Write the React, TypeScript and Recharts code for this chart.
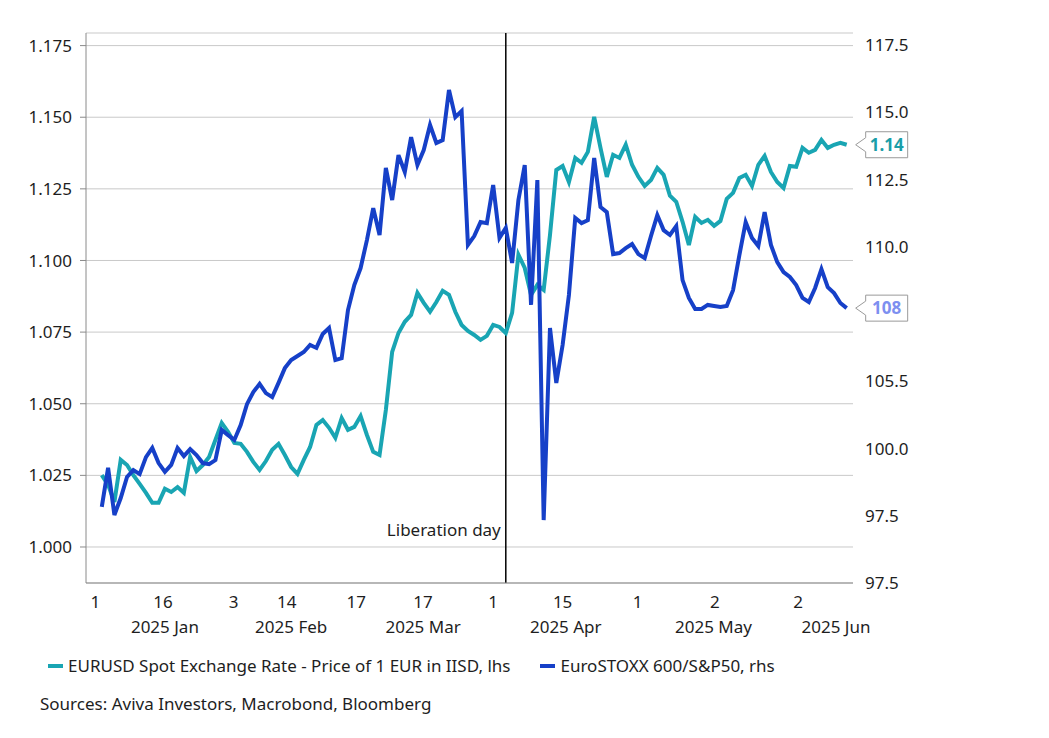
import { LineChart, Line, XAxis, YAxis, CartesianGrid, ReferenceLine } from 'recharts'

// Trading-day index (1 = first obs of 2025)
const dayIndex = Array.from({ length: 119 }, (_, k) => k + 1)

// EURUSD spot, lhs
const eurusd = [
  1.0251, 1.0217, 1.0157, 1.0304, 1.0286, 1.0251, 1.0220, 1.0189, 1.0154, 1.0154,
  1.0203, 1.0192, 1.0209, 1.0189, 1.0314, 1.0265, 1.0286, 1.0314, 1.0374, 1.0433,
  1.0402, 1.0363, 1.0360, 1.0332, 1.0297, 1.0269, 1.0300, 1.0339, 1.0360, 1.0321,
  1.0279, 1.0255, 1.0304, 1.0349, 1.0426, 1.0443, 1.0416, 1.0381, 1.0450, 1.0409,
  1.0419, 1.0457, 1.0391, 1.0332, 1.0321, 1.0478, 1.0681, 1.0747, 1.0786, 1.0810,
  1.0887, 1.0852, 1.0821, 1.0855, 1.0894, 1.0880, 1.0821, 1.0775, 1.0754, 1.0740,
  1.0723, 1.0737, 1.0775, 1.0768, 1.0747, 1.0817, 1.1020, 1.0974, 1.0880, 1.0915,
  1.0897, 1.1089, 1.1316, 1.1330, 1.1274, 1.1358, 1.1341, 1.1379, 1.1501, 1.1393,
  1.1292, 1.1369, 1.1358, 1.1404, 1.1334, 1.1292, 1.1260, 1.1281, 1.1323, 1.1299,
  1.1226, 1.1205, 1.1135, 1.1054, 1.1152, 1.1131, 1.1142, 1.1121, 1.1138, 1.1215,
  1.1236, 1.1288, 1.1299, 1.1260, 1.1334, 1.1365, 1.1309, 1.1274, 1.1253, 1.1330,
  1.1327, 1.1393, 1.1376, 1.1386, 1.1421, 1.1393, 1.1404, 1.1411, 1.1404,
]

// EuroSTOXX 600 / S&P500 ratio, rhs
const stoxxRatio = [
  100.33, 101.78, 100.03, 100.66, 101.44, 101.70, 101.55, 102.18, 102.52, 101.96,
  101.63, 101.89, 102.52, 102.22, 102.48, 102.26, 101.96, 101.92, 102.07, 103.19,
  103.00, 102.82, 103.37, 104.15, 104.60, 104.90, 104.56, 104.41, 104.94, 105.49,
  105.79, 105.94, 106.09, 106.35, 106.24, 106.76, 106.98, 105.79, 105.86, 107.65,
  108.58, 109.21, 110.25, 111.44, 110.44, 112.93, 111.74, 113.41, 112.78, 114.08,
  113.04, 113.60, 114.53, 113.86, 113.97, 115.83, 114.82, 115.05, 110.07, 110.40,
  110.92, 110.88, 112.30, 110.33, 110.70, 109.40, 111.74, 113.04, 107.84, 112.48,
  99.84, 106.98, 104.94, 106.35, 108.21, 111.07, 110.88, 110.99, 113.30, 111.48,
  111.29, 109.73, 109.77, 109.95, 110.10, 109.73, 109.58, 110.40, 111.18, 110.62,
  110.44, 110.77, 108.76, 108.10, 107.69, 107.69, 107.84, 107.80, 107.76, 107.80,
  108.39, 109.69, 110.92, 110.33, 110.03, 111.29, 110.07, 109.43, 109.06, 108.88,
  108.58, 108.10, 107.95, 108.47, 109.17, 108.50, 108.28, 107.91, 107.72,
]

const dayTicks = [0, 10.7, 21.9, 30.3, 41.3, 51.9, 63, 74, 85.9, 98.1, 111.3]
const dayTickLabels = ['1', '16', '3', '14', '17', '17', '1', '15', '1', '2', '2']
const monthTicks = [11, 31, 51.9, 74.5, 97.9, 117.3]
const monthLabels = ['2025 Jan', '2025 Feb', '2025 Mar', '2025 Apr', '2025 May', '2025 Jun']

const leftTicks = [1.0, 1.025, 1.05, 1.075, 1.1, 1.125, 1.15, 1.175]
const rightTicks = [97.5, 100, 102.5, 105, 107.5, 110, 112.5, 115, 117.5]
const rightTickLabels = ['97.5', '97.5', '100.0', '105.5', '', '110.0', '112.5', '115.0', '117.5']

const liberationDay = 65
const eurusdName = 'EURUSD Spot Exchange Rate - Price of 1 EUR in IISD, lhs'
const stoxxName = 'EuroSTOXX 600/S&P50, rhs'
const sourceNote = 'Sources: Aviva Investors, Macrobond, Bloomberg'

const TEAL = '#19a5b3'
const BLUE = '#1640c8'
const AXIS = '#8a8a8a'
const GRID = '#c9c9c9'
const TEXT = '#1e1e1e'
const FONT = "'Noto Sans', sans-serif"

const data = dayIndex.map((i, k) => ({ i, eurusd: eurusd[k], stoxx: stoxxRatio[k] }))
const lastIdx = data.length - 1

const tickStyle = { fill: TEXT, fontSize: 17, fontFamily: FONT }

function endTag(text: string, color: string) {
  return (p: any) => {
    const { cx, cy, index } = p
    if (index !== lastIdx || cx == null || cy == null) return <g key={`t${index}`} />
    const tip = cx + 9
    const bx = cx + 19
    const w = 42
    const h = 13
    const pts = [
      [tip, cy], [bx, cy - 7], [bx, cy - h], [bx + w, cy - h],
      [bx + w, cy + h], [bx, cy + h], [bx, cy + 7],
    ].map((q) => q.join(',')).join(' ')
    return (
      <g key={`t${index}`}>
        <polygon points={pts} fill="#fff" stroke="#9a9a9a" strokeWidth={1} />
        <text x={bx + w / 2} y={cy + 6} textAnchor="middle" fill={color}
          fontSize={17} fontWeight={700} fontFamily={FONT}>{text}</text>
      </g>
    )
  }
}

export default function App() {
  return (
    <div style={{ width: 1033, fontFamily: FONT, color: TEXT }}>
      <LineChart width={1033} height={635} data={data} margin={{ top: 25, right: 0, left: 0, bottom: 0 }}>
        <CartesianGrid yAxisId="left" xAxisId="idx" horizontal vertical={false} stroke={GRID} />
        <XAxis
          xAxisId="idx" dataKey="i" type="number" domain={[-1.5, 120]} ticks={dayTicks} interval={0}
          height={30} tickFormatter={(v: number) => dayTickLabels[dayTicks.indexOf(v)] ?? ''}
          tick={tickStyle} tickLine={false} tickSize={6} tickMargin={7} stroke={AXIS}
        />
        <XAxis
          xAxisId="month" dataKey="i" type="number" domain={[-1.5, 120]} ticks={monthTicks} interval={0}
          height={30} tickFormatter={(v: number) => monthLabels[monthTicks.indexOf(v)] ?? ''}
          tick={tickStyle} axisLine={false} tickLine={false} tickSize={6} tickMargin={2}
        />
        <YAxis
          yAxisId="left" orientation="left" width={78} domain={[0.98743, 1.1794]} ticks={leftTicks}
          interval={0} tickFormatter={(v: number) => v.toFixed(3)} tick={tickStyle}
          tickSize={6} tickMargin={8} stroke={AXIS}
        />
        <YAxis
          yAxisId="rmarks" orientation="right" width={0} domain={[0.98743, 1.1794]} ticks={leftTicks}
          interval={0} tick={false} tickSize={5} stroke={AXIS}
        />
        <YAxis
          yAxisId="right" orientation="right" width={188} domain={[97.5, 117.95]} ticks={rightTicks}
          interval={0} tickFormatter={(v: number) => rightTickLabels[rightTicks.indexOf(v)] ?? ''}
          tick={tickStyle} axisLine={false} tickLine={false} tickSize={6} tickMargin={6}
        />
        <ReferenceLine
          xAxisId="idx" yAxisId="left" x={liberationDay} stroke="#000" strokeWidth={1.5}
          label={(p: any) => {
            const vb = p.viewBox || p
            return (
              <text x={vb.x - 5} y={vb.y + vb.height - 47} textAnchor="end" fill={TEXT}
                fontSize={17} fontFamily={FONT}>Liberation day</text>
            )
          }}
        />
        <Line
          xAxisId="idx" yAxisId="left" type="linear" dataKey="eurusd" name={eurusdName}
          stroke={TEAL} strokeWidth={4} dot={endTag(eurusd[lastIdx].toFixed(2), '#1a9ea8')}
          activeDot={false} isAnimationActive={false}
        />
        <Line
          xAxisId="idx" yAxisId="right" type="linear" dataKey="stoxx" name={stoxxName}
          stroke={BLUE} strokeWidth={4} dot={endTag(String(Math.round(stoxxRatio[lastIdx])), '#7d8ff0')}
          activeDot={false} isAnimationActive={false}
        />
      </LineChart>
      <div style={{ display: 'flex', alignItems: 'center', marginTop: 12, paddingLeft: 40, fontSize: 17, lineHeight: '22px' }}>
        <span style={{ display: 'inline-block', width: 15, height: 4, background: TEAL, marginRight: 5 }} />
        <span>{eurusdName}</span>
        <span style={{ display: 'inline-block', width: 15, height: 4, background: BLUE, marginLeft: 30, marginRight: 5 }} />
        <span>{stoxxName}</span>
      </div>
      <div style={{ marginTop: 16, paddingLeft: 32, fontSize: 17, lineHeight: '22px' }}>{sourceNote}</div>
    </div>
  )
}
